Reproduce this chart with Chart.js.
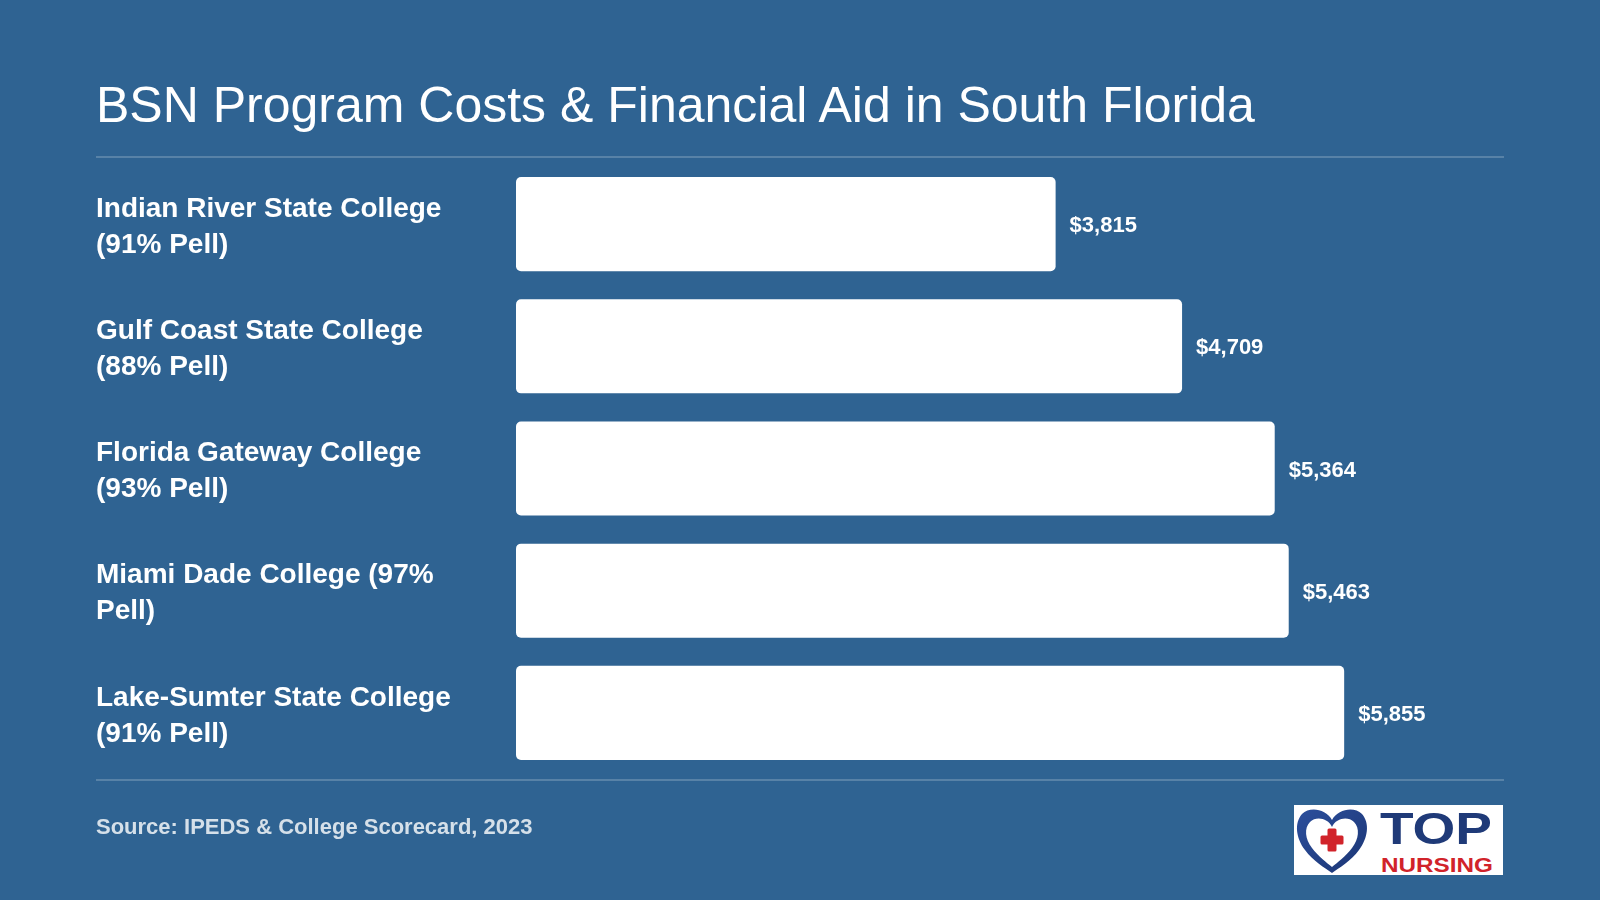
<!DOCTYPE html>
<html>
<head>
<meta charset="utf-8">
<script src="https://cdn.jsdelivr.net/npm/chart.js@4.4.1/dist/chart.umd.min.js"></script>
<style>
  html, body { margin: 0; padding: 0; background: #2f6392; }
  body { width: 1600px; height: 900px; position: relative; overflow: hidden; font-family: "Liberation Sans", Arial, Helvetica, sans-serif; }
  #chart { position: absolute; left: 0; top: 0; }
  .title { position: absolute; left: 96px; top: 80px; font-size: 50px; line-height: 50px; color: #ffffff; font-weight: 400; white-space: nowrap; }
  .rule { position: absolute; left: 96px; width: 1408px; height: 2px; background: rgba(255,255,255,0.2); }
  .source { position: absolute; left: 96px; top: 816px; font-size: 22px; line-height: 22px; font-weight: 700; color: rgba(255,255,255,0.8); white-space: nowrap; }
  .logo { position: absolute; left: 1294px; top: 805px; width: 209px; height: 70px; background: #ffffff; }
</style>
</head>
<body>
<canvas id="chart" width="1600" height="900"></canvas>
<div class="title">BSN Program Costs &amp; Financial Aid in South Florida</div>
<div class="rule" style="top:156px"></div>
<div class="rule" style="top:779px"></div>
<div class="source">Source: IPEDS &amp; College Scorecard, 2023</div>
<div class="logo">
  <svg width="209" height="70" viewBox="0 0 209 70">
    <defs>
      <linearGradient id="hg" x1="0" y1="0" x2="1" y2="1">
        <stop offset="0" stop-color="#2c4f9c"/>
        <stop offset="1" stop-color="#1b3574"/>
      </linearGradient>
    </defs>
    <path fill="url(#hg)" fill-rule="evenodd" d="M38,15 C32,4 16,1 8,9 C0,18 2,33 11,45 C19,56 31,63 38,68 C45,63 57,56 65,45 C74,33 76,18 68,9 C60,1 44,4 38,15 Z M38,22 C34,13 22,11 16,17 C10,23 11,34 18,43 C24,51 33,58 38,62 C43,58 52,51 58,43 C65,34 66,23 60,17 C54,11 42,13 38,22 Z"/>
    <rect x="33.5" y="23.5" width="9" height="23" rx="1.5" fill="#d1232a"/>
    <rect x="26.5" y="30.5" width="23" height="9" rx="1.5" fill="#d1232a"/>
    <text x="86" y="38.5" font-family="Liberation Sans, Arial, sans-serif" font-size="45" font-weight="700" fill="#1f3a78" textLength="112" lengthAdjust="spacingAndGlyphs">TOP</text>
    <text x="87" y="66.5" font-family="Liberation Sans, Arial, sans-serif" font-size="21" font-weight="700" fill="#d1232a" textLength="112" lengthAdjust="spacingAndGlyphs">NURSING</text>
  </svg>
</div>
<script>
// ---- Data ----
const categoryLines = [
  ["Indian River State College", "(91% Pell)"],
  ["Gulf Coast State College", "(88% Pell)"],
  ["Florida Gateway College", "(93% Pell)"],
  ["Miami Dade College (97%", "Pell)"],
  ["Lake-Sumter State College", "(91% Pell)"]
];
const netCost = [3815, 4709, 5364, 5463, 5855];
const axisMin = 0;
const axisMax = 6985;

// ---- Chart ----
Chart.defaults.font.family = '"Liberation Sans", Arial, Helvetica, sans-serif';

const valueLabels = {
  id: 'valueLabels',
  afterDatasetsDraw(chart) {
    const ctx = chart.ctx;
    const meta = chart.getDatasetMeta(0);
    ctx.save();
    ctx.fillStyle = '#ffffff';
    ctx.font = 'bold 22px "Liberation Sans", Arial, sans-serif';
    ctx.textAlign = 'left';
    ctx.textBaseline = 'middle';
    meta.data.forEach((bar, i) => {
      const v = chart.data.datasets[0].data[i];
      ctx.fillText('$' + v.toLocaleString('en-US'), bar.x + 14, bar.y + 2);
    });
    ctx.restore();
  }
};

new Chart(document.getElementById('chart'), {
  type: 'bar',
  data: {
    labels: categoryLines,
    datasets: [{
      data: netCost,
      backgroundColor: '#ffffff',
      borderWidth: 0,
      borderRadius: 5,
      borderSkipped: false,
      barPercentage: 0.77,
      categoryPercentage: 1.0
    }]
  },
  options: {
    indexAxis: 'y',
    responsive: false,
    animation: false,
    devicePixelRatio: 1,
    layout: { padding: { left: 96, right: 96, top: 163, bottom: 126 } },
    plugins: {
      legend: { display: false },
      tooltip: { enabled: false },
      title: { display: false }
    },
    scales: {
      x: {
        display: false,
        min: axisMin,
        max: axisMax
      },
      y: {
        grid: { display: false },
        border: { display: false },
        afterFit(scale) { scale.width = 420; },
        ticks: {
          autoSkip: false,
          crossAlign: 'far',
          labelOffset: 3,
          color: '#ffffff',
          font: { size: 28, weight: 'bold', lineHeight: 1.2857 }
        }
      }
    }
  },
  plugins: [valueLabels]
});
</script>
</body>
</html>
